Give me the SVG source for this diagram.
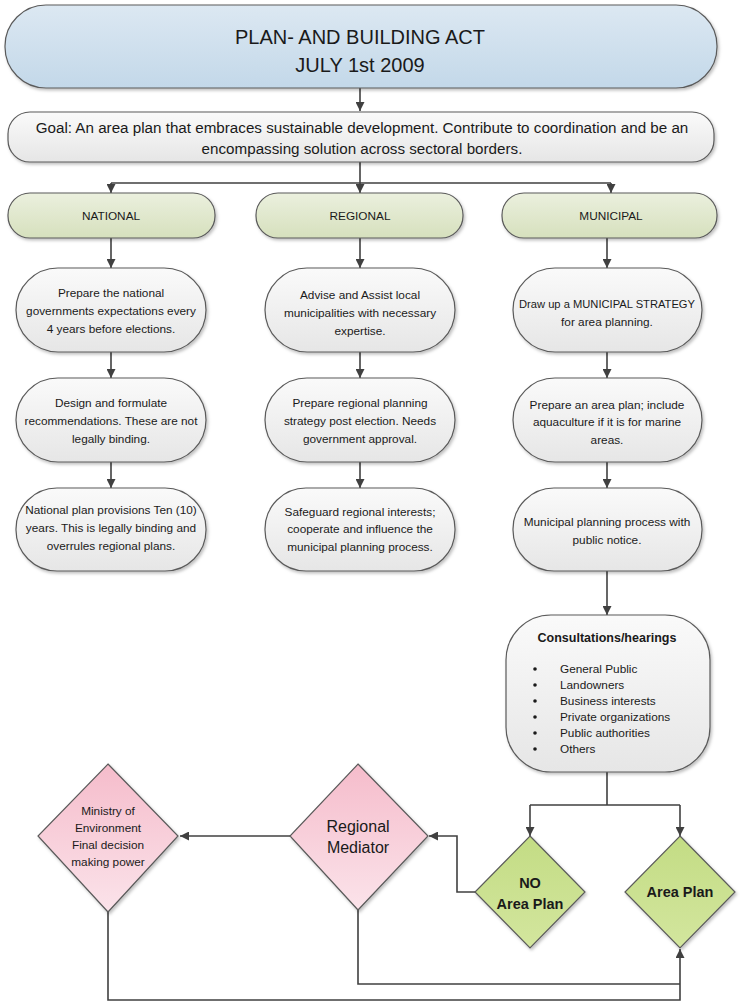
<svg xmlns="http://www.w3.org/2000/svg" width="743" height="1005" viewBox="0 0 743 1005">
<defs>
<linearGradient id="gBlue" x1="0" y1="0" x2="0" y2="1"><stop offset="0" stop-color="#dce8f2"/><stop offset="1" stop-color="#c3d8e9"/></linearGradient>
<linearGradient id="gGray" x1="0" y1="0" x2="0" y2="1"><stop offset="0" stop-color="#fafafa"/><stop offset="1" stop-color="#e6e6e6"/></linearGradient>
<linearGradient id="gOlive" x1="0" y1="0" x2="0" y2="1"><stop offset="0" stop-color="#ebf0de"/><stop offset="1" stop-color="#d6e0bd"/></linearGradient>
<linearGradient id="gPink" x1="0" y1="0" x2="0" y2="1"><stop offset="0" stop-color="#f5bccb"/><stop offset="1" stop-color="#fbe3ea"/></linearGradient>
<linearGradient id="gGreen" x1="0" y1="0" x2="0" y2="1"><stop offset="0" stop-color="#c3dc84"/><stop offset="1" stop-color="#d3e69e"/></linearGradient>
<filter id="sh" x="-10%" y="-10%" width="125%" height="130%"><feDropShadow dx="1.5" dy="2" stdDeviation="1.5" flood-color="#000" flood-opacity="0.25"/></filter>
<marker id="ah" viewBox="0 0 10 10" refX="10" refY="5" markerWidth="9" markerHeight="9" markerUnits="userSpaceOnUse" orient="auto"><path d="M0,0 L10,5 L0,10 Z" fill="#404040"/></marker>
</defs>
<style>
.box{stroke:#5a5a5a;stroke-width:1.2;filter:url(#sh)}
.t{font-family:"Liberation Sans",Arial,sans-serif;fill:#1a1a1a;text-anchor:middle}
.s12{font-size:11.8px}
.b{font-weight:bold}
.c{fill:none;stroke:#404040;stroke-width:1.6}
</style>

<g id="connectors">
<path class="c" d="M360,88 V111" marker-end="url(#ah)"/>
<path class="c" d="M360,162 V183 M111,183 H611" />
<path class="c" d="M111,183 V193" marker-end="url(#ah)"/>
<path class="c" d="M360,183 V193" marker-end="url(#ah)"/>
<path class="c" d="M611,183 V193" marker-end="url(#ah)"/>
<path class="c" d="M111,238 V268" marker-end="url(#ah)"/>
<path class="c" d="M360,238 V268" marker-end="url(#ah)"/>
<path class="c" d="M607,238 V268" marker-end="url(#ah)"/>
<path class="c" d="M111,352 V378" marker-end="url(#ah)"/>
<path class="c" d="M360,352 V378" marker-end="url(#ah)"/>
<path class="c" d="M607,352 V378" marker-end="url(#ah)"/>
<path class="c" d="M111,462 V488" marker-end="url(#ah)"/>
<path class="c" d="M360,462 V488" marker-end="url(#ah)"/>
<path class="c" d="M607,462 V488" marker-end="url(#ah)"/>
<path class="c" d="M607,571 V615" marker-end="url(#ah)"/>
<path class="c" d="M607,772 V805 M530,805 H680"/>
<path class="c" d="M530,805 V836" marker-end="url(#ah)"/>
<path class="c" d="M680,805 V836" marker-end="url(#ah)"/>
<path class="c" d="M475,892 H457 V836 H429" marker-end="url(#ah)"/>
<path class="c" d="M290,836 H180" marker-end="url(#ah)"/>
<path class="c" d="M358,910 V984 H680"/>
<path class="c" d="M108,912 V1000 H680 V949" marker-end="url(#ah)"/>
</g>

<g id="title">
<rect class="box" x="5" y="5" width="712" height="83" rx="41" fill="url(#gBlue)"/>
<text class="t" x="360" y="44" font-size="20">PLAN- AND BUILDING ACT</text>
<text class="t" x="360" y="72" font-size="20">JULY 1st 2009</text>
</g>

<g id="goal">
<rect class="box" x="8" y="112" width="706" height="50" rx="22" fill="url(#gGray)"/>
<text class="t" x="362" y="133" font-size="15.2">Goal: An area plan that embraces sustainable development. Contribute to coordination and be an</text>
<text class="t" x="362" y="154" font-size="15.2">encompassing solution across sectoral borders.</text>
</g>

<g id="national">
<rect class="box" x="8" y="193" width="207" height="45" rx="22" fill="url(#gOlive)"/>
<text class="t s12" x="111" y="220">NATIONAL</text>
</g>
<g id="regional">
<rect class="box" x="256" y="193" width="207" height="45" rx="22" fill="url(#gOlive)"/>
<text class="t s12" x="360" y="220">REGIONAL</text>
</g>
<g id="municipal">
<rect class="box" x="502" y="193" width="215" height="45" rx="22" fill="url(#gOlive)"/>
<text class="t s12" x="611" y="220">MUNICIPAL</text>
</g>

<g id="nat1">
<rect class="box" x="16" y="268" width="190" height="84" rx="42" fill="url(#gGray)"/>
<text class="t s12" x="111" y="297">Prepare the national</text>
<text class="t s12" x="111" y="315">governments expectations every</text>
<text class="t s12" x="111" y="333">4 years before elections.</text>
</g>
<g id="nat2">
<rect class="box" x="16" y="378" width="190" height="84" rx="42" fill="url(#gGray)"/>
<text class="t s12" x="111" y="407">Design and formulate</text>
<text class="t s12" x="111" y="425">recommendations. These are not</text>
<text class="t s12" x="111" y="443">legally binding.</text>
</g>
<g id="nat3">
<rect class="box" x="16" y="488" width="190" height="83" rx="41" fill="url(#gGray)"/>
<text class="t s12" x="111" y="514">National plan provisions  Ten (10)</text>
<text class="t s12" x="111" y="532">years. This is legally binding and</text>
<text class="t s12" x="111" y="550">overrules regional plans.</text>
</g>

<g id="reg1">
<rect class="box" x="265" y="268" width="190" height="84" rx="42" fill="url(#gGray)"/>
<text class="t s12" x="360" y="299">Advise and Assist local</text>
<text class="t s12" x="360" y="317">municipalities with necessary</text>
<text class="t s12" x="360" y="335">expertise.</text>
</g>
<g id="reg2">
<rect class="box" x="265" y="378" width="190" height="84" rx="42" fill="url(#gGray)"/>
<text class="t s12" x="360" y="407">Prepare regional planning</text>
<text class="t s12" x="360" y="425">strategy post election. Needs</text>
<text class="t s12" x="360" y="443">government approval.</text>
</g>
<g id="reg3">
<rect class="box" x="265" y="488" width="190" height="83" rx="41" fill="url(#gGray)"/>
<text class="t s12" x="360" y="516">Safeguard regional interests;</text>
<text class="t s12" x="360" y="533">cooperate and influence the</text>
<text class="t s12" x="360" y="551">municipal planning process.</text>
</g>

<g id="mun1">
<rect class="box" x="513" y="268" width="189" height="84" rx="42" fill="url(#gGray)"/>
<text class="t s12" x="607" y="308" textLength="176" lengthAdjust="spacingAndGlyphs">Draw up a MUNICIPAL STRATEGY</text>
<text class="t s12" x="607" y="326">for area planning.</text>
</g>
<g id="mun2">
<rect class="box" x="513" y="378" width="189" height="84" rx="42" fill="url(#gGray)"/>
<text class="t s12" x="607" y="409">Prepare an area plan; include</text>
<text class="t s12" x="607" y="426">aquaculture if it is for marine</text>
<text class="t s12" x="607" y="444">areas.</text>
</g>
<g id="mun3">
<rect class="box" x="513" y="488" width="189" height="83" rx="41" fill="url(#gGray)"/>
<text class="t s12" x="607" y="526">Municipal planning process with</text>
<text class="t s12" x="607" y="544">public notice.</text>
</g>

<g id="consult">
<rect class="box" x="506" y="615" width="204" height="157" rx="45" fill="url(#gGray)"/>
<text class="t b" x="607" y="642" font-size="12.5">Consultations/hearings</text>
<g fill="#1a1a1a">
<circle cx="535" cy="669" r="1.8"/><circle cx="535" cy="685" r="1.8"/><circle cx="535" cy="701" r="1.8"/>
<circle cx="535" cy="717" r="1.8"/><circle cx="535" cy="733" r="1.8"/><circle cx="535" cy="749" r="1.8"/>
</g>
<g class="t s12" style="text-anchor:start">
<text x="560" y="673">General Public</text>
<text x="560" y="689">Landowners</text>
<text x="560" y="705">Business interests</text>
<text x="560" y="721">Private organizations</text>
<text x="560" y="737">Public authorities</text>
<text x="560" y="753">Others</text>
</g>
</g>

<g id="no-area-plan">
<polygon class="box" points="530,836 585,892 530,948 475,892" fill="url(#gGreen)"/>
<text class="t b" x="530" y="888" font-size="14.5">NO</text>
<text class="t b" x="530" y="909" font-size="14.5">Area Plan</text>
</g>
<g id="area-plan">
<polygon class="box" points="680,836 735,892 680,948 625,892" fill="url(#gGreen)"/>
<text class="t b" x="680" y="897" font-size="14.5">Area Plan</text>
</g>

<g id="regional-mediator">
<polygon class="box" points="358,764 428,836 358,910 290,836" fill="url(#gPink)"/>
<text class="t" x="358" y="832" font-size="16">Regional</text>
<text class="t" x="358" y="853" font-size="16">Mediator</text>
</g>
<g id="ministry">
<polygon class="box" points="108,764 178,836 108,912 38,836" fill="url(#gPink)"/>
<text class="t s12" x="108" y="815">Ministry of</text>
<text class="t s12" x="108" y="832">Environment</text>
<text class="t s12" x="108" y="849">Final decision</text>
<text class="t s12" x="108" y="866">making power</text>
</g>
</svg>
